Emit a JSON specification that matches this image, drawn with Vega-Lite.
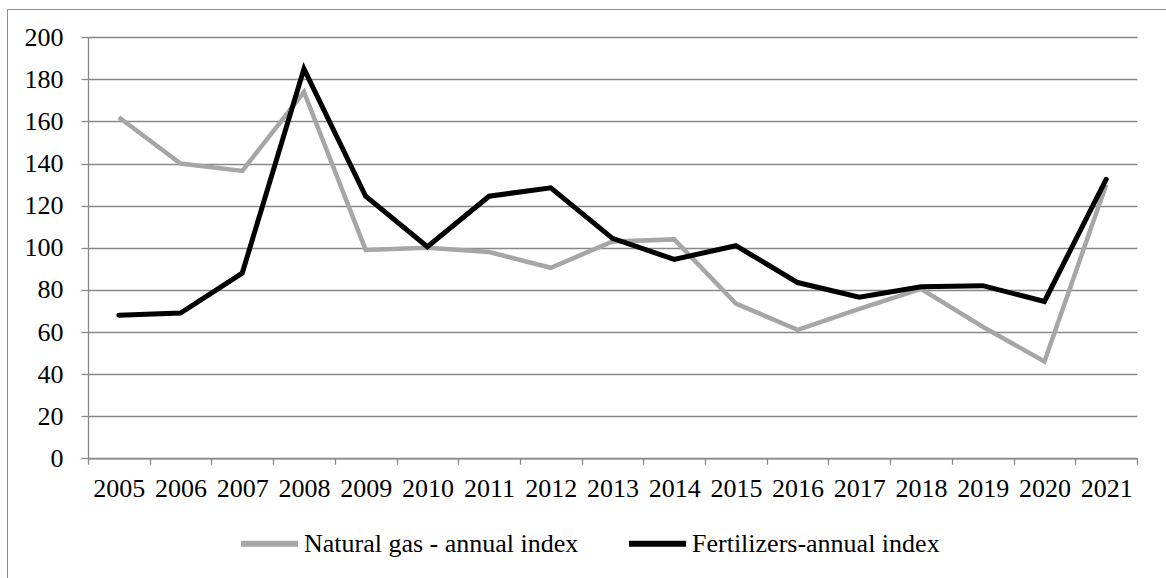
{
  "$schema": "https://vega.github.io/schema/vega-lite/v6.json",
  "autosize": "none",
  "width": 1159,
  "height": 569,
  "padding": {"left": 7, "top": 9, "right": 0, "bottom": 0},
  "background": "white",
  "config": {
    "view": {"stroke": "#8a8a8a", "strokeWidth": 1, "strokeDash": [1159, 1728, 569, 100]},
    "font": "Liberation Serif",
    "axis": {"labelFont": "Liberation Serif", "labelFontSize": 26, "labelColor": "#000000", "domainColor": "#888888", "tickColor": "#888888", "gridColor": "#888888", "gridWidth": 1.3, "domainWidth": 1.3, "tickWidth": 1.3, "title": null},
    "legend": {"labelFont": "Liberation Serif", "labelFontSize": 26, "labelColor": "#000000", "labelLimit": 0}
  },
  "data": {
    "values": [
      {"year": 2005, "series": "Natural gas - annual index", "value": 162},
      {"year": 2006, "series": "Natural gas - annual index", "value": 140},
      {"year": 2007, "series": "Natural gas - annual index", "value": 136.5},
      {"year": 2008, "series": "Natural gas - annual index", "value": 174},
      {"year": 2009, "series": "Natural gas - annual index", "value": 99},
      {"year": 2010, "series": "Natural gas - annual index", "value": 100},
      {"year": 2011, "series": "Natural gas - annual index", "value": 98},
      {"year": 2012, "series": "Natural gas - annual index", "value": 90.5},
      {"year": 2013, "series": "Natural gas - annual index", "value": 103},
      {"year": 2014, "series": "Natural gas - annual index", "value": 104},
      {"year": 2015, "series": "Natural gas - annual index", "value": 73.5},
      {"year": 2016, "series": "Natural gas - annual index", "value": 61},
      {"year": 2017, "series": "Natural gas - annual index", "value": 71},
      {"year": 2018, "series": "Natural gas - annual index", "value": 80.5},
      {"year": 2019, "series": "Natural gas - annual index", "value": 62.5},
      {"year": 2020, "series": "Natural gas - annual index", "value": 46},
      {"year": 2021, "series": "Natural gas - annual index", "value": 130},
      {"year": 2005, "series": "Fertilizers-annual index", "value": 68},
      {"year": 2006, "series": "Fertilizers-annual index", "value": 69},
      {"year": 2007, "series": "Fertilizers-annual index", "value": 88},
      {"year": 2008, "series": "Fertilizers-annual index", "value": 185},
      {"year": 2009, "series": "Fertilizers-annual index", "value": 124.5},
      {"year": 2010, "series": "Fertilizers-annual index", "value": 100.5},
      {"year": 2011, "series": "Fertilizers-annual index", "value": 124.5},
      {"year": 2012, "series": "Fertilizers-annual index", "value": 128.5},
      {"year": 2013, "series": "Fertilizers-annual index", "value": 104.5},
      {"year": 2014, "series": "Fertilizers-annual index", "value": 94.5},
      {"year": 2015, "series": "Fertilizers-annual index", "value": 101},
      {"year": 2016, "series": "Fertilizers-annual index", "value": 83.5},
      {"year": 2017, "series": "Fertilizers-annual index", "value": 76.5},
      {"year": 2018, "series": "Fertilizers-annual index", "value": 81.5},
      {"year": 2019, "series": "Fertilizers-annual index", "value": 82},
      {"year": 2020, "series": "Fertilizers-annual index", "value": 74.5},
      {"year": 2021, "series": "Fertilizers-annual index", "value": 132.5}
    ]
  },
  "encoding": {
    "x": {
      "field": "year", "type": "quantitative",
      "scale": {"domain": [2004.5, 2021.5], "range": [81, 1130], "nice": false, "zero": false},
      "axis": {
        "orient": "bottom", "offset": -119.7, "grid": false,
        "values": [2004.5, 2005.5, 2006.5, 2007.5, 2008.5, 2009.5, 2010.5, 2011.5, 2012.5, 2013.5, 2014.5, 2015.5, 2016.5, 2017.5, 2018.5, 2019.5, 2020.5, 2021.5],
        "labelExpr": "datum.value < 2021 ? format(datum.value + 0.5, 'd') : ''",
        "labelOffset": 30.85, "labelFlush": false, "labelOverlap": false, "labelBound": false,
        "tickSize": 6, "labelPadding": 11
      }
    },
    "y": {
      "field": "value", "type": "quantitative",
      "scale": {"domain": [0, 200], "range": [449.3, 28.3], "nice": false, "zero": true},
      "axis": {
        "orient": "left", "offset": -81, "grid": true,
        "values": [0, 20, 40, 60, 80, 100, 120, 140, 160, 180, 200],
        "tickSize": 7, "labelPadding": 18, "labelFlush": false, "labelOverlap": false, "labelBound": false
      }
    },
    "color": {
      "field": "series", "type": "nominal",
      "scale": {"domain": ["Natural gas - annual index", "Fertilizers-annual index"], "range": ["#a6a6a6", "#000000"]},
      "legend": {
        "title": null, "orient": "none", "direction": "horizontal", "legendX": 231, "legendY": 503,
        "symbolType": "stroke", "symbolSize": 3249, "symbolStrokeWidth": 6, "labelOffset": 3, "columnPadding": 38
      }
    }
  },
  "layer": [
    {"transform": [{"filter": "datum.series === 'Natural gas - annual index'"}], "mark": {"type": "line", "strokeWidth": 4.5, "strokeJoin": "miter", "strokeCap": "butt"}},
    {"transform": [{"filter": "datum.series === 'Fertilizers-annual index'"}], "mark": {"type": "line", "strokeWidth": 5, "strokeJoin": "miter", "strokeCap": "round"}}
  ]
}
